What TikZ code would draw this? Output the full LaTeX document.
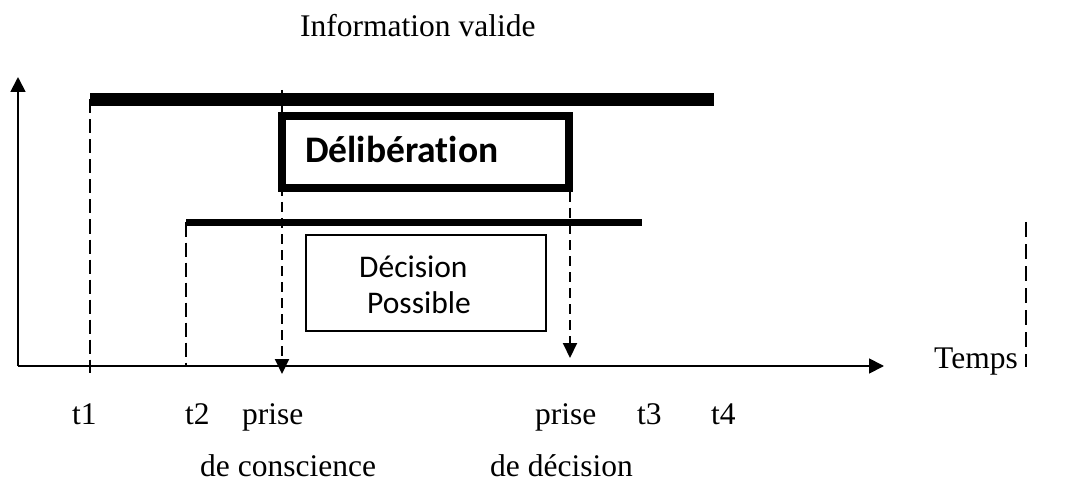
\documentclass[tikz,border=0pt]{standalone}
\usepackage{fontspec}
\setmainfont{Liberation Serif}
\newfontfamily\calfont[Ligatures=NoCommon]{Carlito}
\usetikzlibrary{arrows.meta}

\tikzset{
  axis/.style={line width=1.8pt, -{Triangle[length=15pt,width=15pt]}},
  bigbar/.style={line width=13pt, line cap=butt},
  midbar/.style={line width=7.5pt, line cap=butt},
  guide/.style={line width=2pt, dash pattern=on 14pt off 6pt},
  guidearrow/.style={line width=2pt, dash pattern=on 10pt off 6pt,
    -{Triangle[length=15pt,width=14pt]}},
  delbox/.style={draw, line width=8pt, minimum width=287pt, minimum height=72pt,
    inner sep=0pt},
  decbox/.style={draw, line width=1.5pt, minimum width=240pt, minimum height=96pt,
    inner sep=0pt},
  serif/.style={font=\fontsize{31.5}{37}\selectfont, inner sep=0pt, anchor=base west},
  sans/.style={font=\calfont\fontsize{31.5}{36}\selectfont, inner sep=0pt, anchor=base west},
  sansbold/.style={font=\calfont\bfseries\fontsize{37.5}{44}\selectfont, inner sep=0pt, anchor=base west}
}

\begin{document}
\begin{tikzpicture}[x=1pt, y=-1pt]
\useasboundingbox (0,0) rectangle (1092,481);

% axes
\coordinate (O) at (18,366);
\coordinate (ytop) at (18,77);
\coordinate (xend) at (884,366);
\draw[axis] (O) -- (ytop);
\draw[axis] (O) -- (xend);

% validity bars
\coordinate (b1l) at (90,99.5);
\coordinate (b1r) at (714,99.5);
\coordinate (b2l) at (186,222.5);
\coordinate (b2r) at (642,222.5);
\draw[bigbar] (b1l) -- (b1r);
\draw[midbar] (b2l) -- (b2r);

% boxes
\node[delbox] (delib) at (425.5,152) {};
\node[sansbold] (delibtxt) at (305,163) {Délibération};
\node[decbox] (dec) at (426,283) {};
\node[sans] (dectxt) at (359,277) {Décision};
\node[sans] (postxt) at (367,313) {Possible};

% time markers
\coordinate (t1top) at (90,99.5);
\coordinate (t1bot) at (90,373);
\coordinate (t2top) at (186,222.5);
\coordinate (t2bot) at (186,366);
\coordinate (pctop) at (282,90);
\coordinate (pcbot) at (282,374);
\coordinate (pdtop) at (570,192);
\coordinate (pdbot) at (570,358);
\coordinate (rtop) at (1026,222);
\coordinate (rbot) at (1026,367);
\draw[guide] (t1top) -- (t1bot);
\draw[guide] (t2top) -- (t2bot);
\draw[guidearrow] (pctop) -- (pcbot);
\draw[guidearrow] (pdtop) -- (pdbot);
\draw[guide, dash pattern=on 15pt off 7pt] (rtop) -- (rbot);

% labels
\node[serif] (title) at (300,37) {Information valide};
\node[serif] (temps) at (934,368) {Temps};
\node[serif] (t1) at (72,424) {t1};
\node[serif] (t2) at (185,424) {t2};
\node[serif] (prise1) at (242,424) {prise};
\node[serif] (prise2) at (535,424) {prise};
\node[serif] (t3) at (637,424) {t3};
\node[serif] (t4) at (711,424) {t4};
\node[serif] (conscience) at (200,476) {de conscience};
\node[serif] (decision) at (490,476) {de décision};
\end{tikzpicture}
\end{document}
